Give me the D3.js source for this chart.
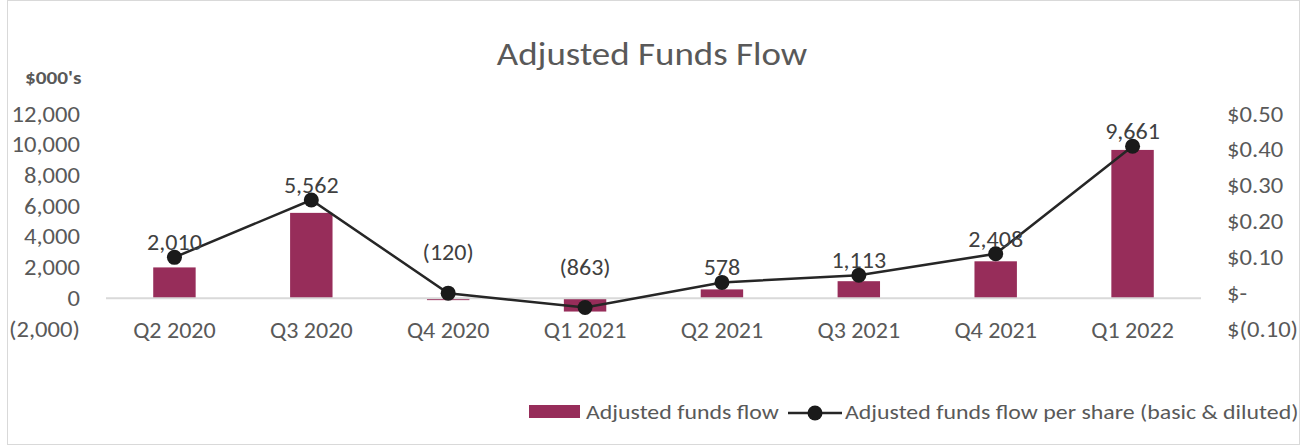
<!DOCTYPE html>
<html>
<head>
<meta charset="utf-8">
<script src="https://cdn.jsdelivr.net/npm/d3@7"></script>
<style>
  body { margin: 0; background: #fff; }
  text { font-family: Carlito, Lato, "Liberation Sans", sans-serif; }
</style>
</head>
<body>
<div id="chart"></div>
<script>
// data
const quarters = ['Q2 2020', 'Q3 2020', 'Q4 2020', 'Q1 2021', 'Q2 2021', 'Q3 2021', 'Q4 2021', 'Q1 2022'];
const fundsFlow = [2010, 5562, -120, -863, 578, 1113, 2408, 9661];
const perShare = [0.10, 0.26, 0.00, -0.04, 0.03, 0.05, 0.11, 0.41];
const leftTicks = [-2000, 0, 2000, 4000, 6000, 8000, 10000, 12000];
const rightTicks = [-0.10, 0, 0.10, 0.20, 0.30, 0.40, 0.50];

const W = 1303, H = 447;
const plot = {left: 106, right: 1201, top: 114, bottom: 329};
const barColor = '#972d5a';
const textColor = '#595959';
const SX = 1.12; // the reference text is a bit wider than Calibri

const svg = d3.select('#chart').append('svg')
    .attr('width', W)
    .attr('height', H);

// chart border
svg.append('rect')
    .attr('x', 7.5).attr('y', 0.5)
    .attr('width', 1292).attr('height', 444)
    .attr('fill', '#fff')
    .attr('stroke', '#d9d9d9');

// stretched text helper
function stext(parent, x, y, str, anchor, size) {
    return parent.append('text')
        .attr('transform', 'translate(' + x + ',' + y + ') scale(' + SX + ',1)')
        .attr('text-anchor', anchor)
        .attr('font-size', size + 'px')
        .attr('fill', textColor)
        .text(str);
}

const x = d3.scaleBand()
    .domain(quarters)
    .range([plot.left, plot.right])
    .paddingInner(0.69)
    .paddingOuter(0.345);

const yL = d3.scaleLinear()
    .domain([-2000, 12000])
    .range([plot.bottom, plot.top]);

const yR = d3.scaleLinear()
    .domain([-0.10, 0.50])
    .range([plot.bottom, plot.top]);

const cx = i => x(quarters[i]) + x.bandwidth() / 2;

const fmtK = v => v < 0 ? '(' + d3.format(',')(-v) + ')' : d3.format(',')(v);
const fmtD = v => {
    if (Math.abs(v) < 1e-9) return '$-';
    return v < 0 ? '$(' + d3.format('.2f')(-v) + ')' : '$' + d3.format('.2f')(v);
};

// title
stext(svg, 652, 65, 'Adjusted Funds Flow', 'middle', 33);

stext(svg, 25, 84, "$000's", 'start', 19).attr('font-weight', 'bold');

// left axis
const axL = svg.append('g')
    .attr('transform', 'translate(80,0)')
    .call(d3.axisLeft(yL).tickValues(leftTicks).tickFormat(fmtK).tickSize(0).tickPadding(0));
axL.select('.domain').remove();
axL.selectAll('text')
    .attr('font-size', '22px')
    .attr('fill', textColor)
    .attr('transform', 'scale(' + SX + ',1)')
    .style('font-family', 'Carlito, Lato, sans-serif');

// right axis
const axR = svg.append('g')
    .attr('transform', 'translate(1227,0)')
    .call(d3.axisRight(yR).tickValues(rightTicks).tickFormat(fmtD).tickSize(0).tickPadding(0));
axR.select('.domain').remove();
axR.selectAll('text')
    .attr('font-size', '22px')
    .attr('fill', textColor)
    .attr('transform', 'scale(' + SX + ',1)')
    .style('font-family', 'Carlito, Lato, sans-serif');

// bars
svg.append('g').selectAll('rect')
    .data(fundsFlow)
    .enter()
    .append('rect')
    .attr('x', (d, i) => x(quarters[i]))
    .attr('width', x.bandwidth())
    .attr('y', d => yL(Math.max(0, d)))
    .attr('height', d => Math.abs(yL(d) - yL(0)))
    .attr('fill', barColor);

// zero line
svg.append('line')
    .attr('x1', plot.left).attr('x2', plot.right)
    .attr('y1', yL(0)).attr('y2', yL(0))
    .attr('stroke', '#d9d9d9')
    .attr('stroke-width', 2);

// category labels
const catG = svg.append('g');
quarters.forEach((q, i) => stext(catG, cx(i), 338, q, 'middle', 21.5));

// per share line
const line = d3.line()
    .x((d, i) => cx(i))
    .y(d => yR(d));

svg.append('path')
    .datum(perShare)
    .attr('d', line)
    .attr('fill', 'none')
    .attr('stroke', '#262626')
    .attr('stroke-width', 2.5);

svg.append('g').selectAll('circle')
    .data(perShare)
    .enter()
    .append('circle')
    .attr('cx', (d, i) => cx(i))
    .attr('cy', d => yR(d))
    .attr('r', 7.5)
    .attr('fill', '#1a1a1a');

// data labels
const lblG = svg.append('g');
fundsFlow.forEach((d, i) => {
    const dotY = yR(perShare[i]);
    const ly = d < 0 ? dotY - 33 : Math.min(yL(d), dotY) - 7;
    stext(lblG, cx(i), ly, fmtK(d), 'middle', 21.5).attr('fill', '#404040');
});

// legend
const lg = svg.append('g');
lg.append('rect')
    .attr('x', 529).attr('y', 405)
    .attr('width', 51).attr('height', 13)
    .attr('fill', barColor);
stext(lg, 586, 419, 'Adjusted funds flow', 'start', 21.3);
lg.append('line')
    .attr('x1', 788).attr('x2', 842)
    .attr('y1', 413).attr('y2', 413)
    .attr('stroke', '#262626')
    .attr('stroke-width', 2.5);
lg.append('circle')
    .attr('cx', 815).attr('cy', 413)
    .attr('r', 7.5)
    .attr('fill', '#1a1a1a');
stext(lg, 845, 419, 'Adjusted funds flow per share (basic & diluted)', 'start', 21.3);
</script>
</body>
</html>
